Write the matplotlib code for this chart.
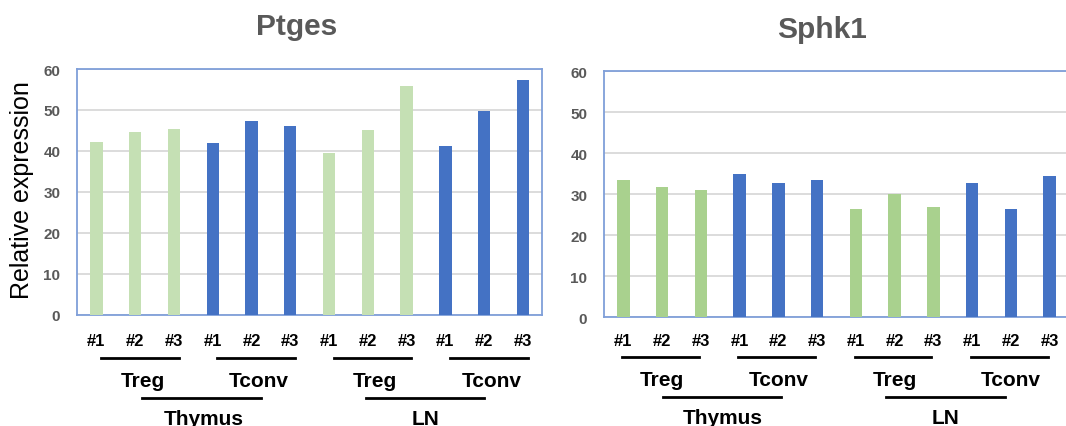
import numpy as np
import matplotlib
matplotlib.use('Agg')
import matplotlib.pyplot as plt
from matplotlib.lines import Line2D
from matplotlib import transforms

# data
samples = ['#1', '#2', '#3'] * 4
cells = ['Treg', 'Tconv', 'Treg', 'Tconv']
tissues = ['Thymus', 'LN']
ptges = [42.1, 44.6, 45.4, 42.0, 47.2, 46.1, 39.4, 45.1, 55.9, 41.2, 49.8, 57.2]
sphk1 = [33.4, 31.8, 31.1, 35.0, 32.7, 33.4, 26.5, 30.1, 27.0, 32.7, 26.5, 34.5]

W, H = 1066, 427
plt.rcParams['font.family'] = ['Liberation Sans', 'DejaVu Sans']

BLUE = '#4472C4'
GREY = '#595959'
SPINE = '#7F9FD9'

fig = plt.figure(figsize=(W/100, H/100), dpi=100)


def fy(px):
    return 1 - px/H


def panel(rect, vals, green, title, tx, ty, xpad, lay):
    ax = fig.add_axes(rect)
    x = np.arange(len(vals))
    colors = ([green]*3 + [BLUE]*3) * 2
    ax.bar(x, vals, width=0.32, color=colors, zorder=3)
    ax.set_xlim(-0.5, 11.5)
    ax.set_ylim(0, 60)
    ax.set_yticks(range(0, 61, 10))
    ax.grid(axis='y', color='#D9D9D9', lw=1.3, zorder=0)
    for s in ax.spines.values():
        s.set_color(SPINE)
        s.set_linewidth(1.3)
    ax.tick_params(axis='y', length=0, pad=12, labelsize=11, labelcolor=GREY)
    ax.tick_params(axis='x', length=0, pad=xpad, labelsize=12, labelcolor='black')
    ax.set_xticks(x)
    ax.set_xticklabels(samples, fontweight='bold')
    for t in ax.get_yticklabels():
        t.set_fontweight('bold')

    tr = transforms.blended_transform_factory(ax.transData, fig.transFigure)
    for g, name in enumerate(cells):
        c0 = g*3
        fig.add_artist(Line2D([c0 + lay['s0'], c0 + 2 + lay['s1']], [fy(lay['ly'])]*2,
                              transform=tr, color='black', lw=2))
        fig.text(c0 + 1 + lay['sl'], fy(lay['ty']), name, transform=tr, ha='center',
                 va='baseline', fontsize=15, fontweight='bold')
    for (a, b), cx, name in zip(lay['big'], lay['bx'], tissues):
        fig.add_artist(Line2D([a, b], [fy(lay['by'])]*2, transform=tr, color='black', lw=2))
        fig.text(cx, fy(lay['bty']), name, transform=tr, ha='center', va='baseline',
                 fontsize=15, fontweight='bold')

    fig.text(tx/W, fy(ty), title, ha='center', va='baseline', fontsize=21.5,
             fontweight='bold', color=GREY)
    return ax


panel([77/W, fy(315.7), 465.3/W, 245.7/H], ptges, '#C5E0B4', 'Ptges', 296.5, 35, 13,
      dict(s0=0.12, s1=0.12, sl=0.19, ly=359, ty=386.7,
           big=[(1.18, 4.25), (6.96, 10.0)], bx=[2.76, 8.48], by=399, bty=425))
panel([604/W, fy(318.3), 465/W, 246/H], sphk1, '#A9D18E', 'Sphk1', 822.5, 38, 11,
      dict(s0=-0.03, s1=-0.05, sl=0.0, ly=358.3, ty=386,
           big=[(1.03, 4.06), (6.79, 9.85)], bx=[2.57, 8.32], by=397.7, bty=424))

fig.text(22/W, fy(190), 'Relative expression', rotation=90, ha='center', va='center',
         fontsize=18)

plt.savefig('out.png', dpi=100)
